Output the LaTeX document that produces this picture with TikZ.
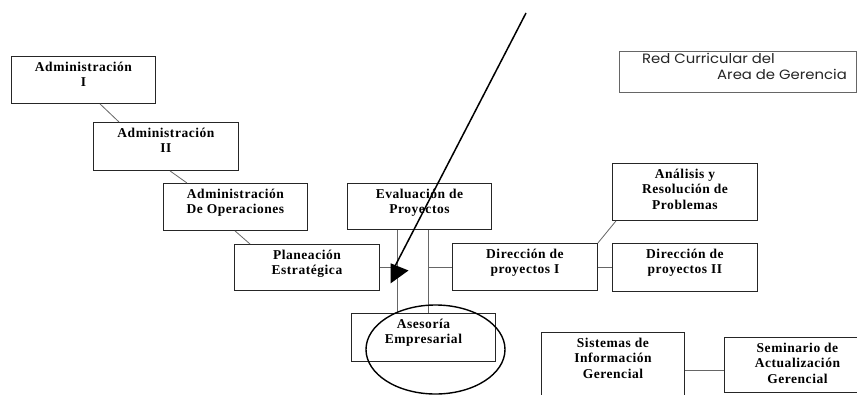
\documentclass[tikz,border=0pt]{standalone}
\usepackage{fontspec}
\setmainfont{Liberation Serif}
\newfontfamily\boxfont[LetterSpace=4]{Liberation Serif}
\newfontfamily\titlefont[FakeStretch=1.1]{Poppins}
\usetikzlibrary{shapes.geometric,calc}

\tikzset{
  box/.style={draw=black!85, line width=0.9pt, rectangle, inner sep=0pt},
  boxtext/.style={anchor=north, inner sep=0pt, align=center,
    font=\boxfont\bfseries\fontsize{13.5}{15.5}\selectfont},
  link/.style={draw=black!60, line width=0.8pt},
  titletext/.style={anchor=base west, inner sep=0pt, text=black!85,
    font=\titlefont\fontsize{13.5}{15}\selectfont},
  pointer/.style={draw=black, line width=1.5pt},
  ring/.style={draw=black, line width=1.4pt, ellipse, inner sep=0pt}
}

% box with its top-left and bottom-right corners, text hung from the top edge
\newcommand\curbox[6]{%
  \node[box, anchor=north west, minimum width={#4-#2}, minimum height={#5-#3}] (#1) at (#2,#3) {};
  \node[boxtext] (#1-t) at ([yshift=-5.5pt]#1.north) {#6};
}

\begin{document}
\begin{tikzpicture}[x=1pt, y=-1pt]
\clip (0,0) rectangle (857,394);
\fill[white] (0,0) rectangle (857,394);

% courses
\curbox{adm1}{11}{56}{155}{103}{Administración\\I}
\curbox{adm2}{93}{122}{238}{170}{Administración\\II}
\curbox{ops}{163}{183}{307}{230}{Administración\\De Operaciones}
\curbox{plan}{234}{244}{379}{290}{Planeación\\Estratégica}
\curbox{eval}{347}{183}{491}{229}{Evaluación de\\Proyectos}
\curbox{ases}{351}{313}{495}{361}{Asesoría\\Empresarial}
\curbox{dir1}{452}{243}{597}{290}{Dirección de\\proyectos I}
\curbox{dir2}{612}{243}{757}{291}{Dirección de\\proyectos II}
\curbox{anal}{612}{163}{757}{220}{Análisis y\\Resolución de\\Problemas}
\curbox{sis}{541}{332}{684}{408}{Sistemas de\\Información\\Gerencial}
\curbox{sem}{724}{337}{870}{392}{Seminario de\\Actualización\\Gerencial}

% title box
\node[draw=black!60, line width=0.8pt, rectangle, anchor=north west, minimum width=237, minimum height=41, inner sep=0pt] (title) at (619,51) {};
\node[titletext] (title-a) at (642,63) {Red Curricular del};
\node[titletext] (title-b) at (717,79) {Area de Gerencia};

% connections
\draw[link] ([xshift=89pt]adm1.south west) -- ([xshift=26pt]adm2.north west);
\draw[link] ([xshift=77pt]adm2.south west) -- ([xshift=24pt]ops.north west);
\draw[link] ([xshift=72pt]ops.south west) -- ([xshift=16pt]plan.north west);
\coordinate (v1) at ([xshift=50pt]eval.south west);
\coordinate (v2) at ([xshift=81pt]eval.south west);
\draw[link] (v1) -- (v1 |- ases.north);
\draw[link] (v2) -- (v2 |- ases.north);
\draw[link] (plan.east) -- (plan.east -| v1);
\draw[link] (dir1.west) -- (dir1.west -| v2);
\draw[link] (dir1.north east) -- ([xshift=4pt]anal.south west);
\draw[link] (dir1.east) -- (dir1.east -| dir2.west);
\draw[link] (sis.east) -- (sis.east -| sem.west);

% pointer and highlight
\coordinate (ptail) at (526,13);
\coordinate (phead) at (392,272);
\draw[pointer] (ptail) -- (phead);
\fill[black] (390.7,263.3) -- (408.5,270.5) -- (390.7,283.3) -- cycle;
\node[ring, minimum width=139, minimum height=89] (ring) at (435.5,349.5) {};
\end{tikzpicture}
\end{document}
